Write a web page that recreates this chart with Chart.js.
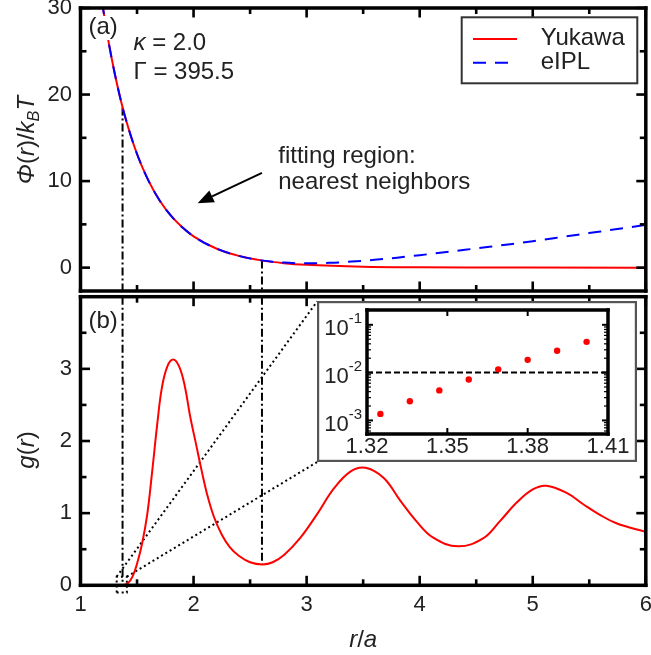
<!DOCTYPE html>
<html><head><meta charset="utf-8">
<script src="https://cdn.jsdelivr.net/npm/chart.js@4"></script>
<style>
html,body{margin:0;padding:0;background:#fff;}
#wrap{position:relative;width:651px;height:655px;overflow:hidden;background:#fff;}
canvas{position:absolute;left:0;}
</style></head><body>
<div id="wrap">
<canvas id="cTop" width="651" height="294" style="top:0px"></canvas>
<canvas id="cBot" width="651" height="361" style="top:294px"></canvas>
<canvas id="cIns" width="10" height="10"></canvas>
</div>
<script>
// ---------- data ----------
const rYukawa   = [1.19, 1.2, 1.25, 1.3, 1.35, 1.4, 1.5, 1.6, 1.7, 1.8, 1.9, 2.0, 2.2, 2.4, 2.6, 2.8, 3.0, 3.5, 4.0, 4.5, 5.0, 6.0];
const phiYukawa = [30.8, 29.9, 25.97, 22.6, 19.69, 17.18, 13.13, 10.08, 7.76, 6.0, 4.66, 3.62, 2.21, 1.36, 0.84, 0.52, 0.33, 0.10, 0.033, 0.011, 0.004, 0.0004];
const rEIPL     = [1.19, 1.2, 1.25, 1.3, 1.35, 1.4, 1.5, 1.6, 1.7, 1.8, 1.9, 2.0, 2.2, 2.4, 2.6, 2.7, 2.8, 2.9, 3.0, 3.2, 3.4, 3.6, 3.8, 4.0, 4.2, 4.4, 4.6, 4.8, 5.0, 5.2, 5.4, 5.6, 5.8, 6.0];
const phiEIPL   = [30.8, 29.9, 25.97, 22.6, 19.69, 17.18, 13.13, 10.08, 7.76, 6.0, 4.66, 3.62, 2.21, 1.36, 0.84, 0.69, 0.58, 0.52, 0.50, 0.55, 0.70, 0.90, 1.15, 1.44, 1.74, 2.06, 2.38, 2.71, 3.06, 3.43, 3.81, 4.18, 4.56, 4.94];
const rG   = [1.0, 1.3, 1.38, 1.42, 1.46, 1.5, 1.545, 1.59, 1.63, 1.68, 1.72, 1.77, 1.82, 1.87, 1.92, 1.97, 2.02, 2.07, 2.12, 2.18, 2.25, 2.32, 2.4, 2.5, 2.61, 2.7, 2.8, 2.94, 3.09, 3.24, 3.39, 3.52, 3.68, 3.83, 3.97, 4.12, 4.34, 4.56, 4.71, 4.86, 5.0, 5.12, 5.3, 5.45, 5.59, 5.74, 6.0];
const gVal = [0, 0, 0.005, 0.03, 0.12, 0.3, 0.58, 0.98, 1.52, 2.25, 2.74, 3.04, 3.13, 3.04, 2.78, 2.34, 1.97, 1.6, 1.26, 0.95, 0.7, 0.53, 0.41, 0.32, 0.29, 0.32, 0.42, 0.65, 0.98, 1.34, 1.58, 1.63, 1.49, 1.17, 0.89, 0.66, 0.54, 0.65, 0.89, 1.15, 1.33, 1.38, 1.28, 1.12, 0.98, 0.86, 0.74];
const rInset   = [1.325, 1.336, 1.347, 1.358, 1.369, 1.380, 1.391, 1.402];
const gInset   = [0.00137, 0.00251, 0.00425, 0.00717, 0.0117, 0.0185, 0.0286, 0.0440];
const insetThreshold = 0.01;
const fitR   = [1.372, 2.605];
const fitPhi = [18.5, 0.83];
const fitG   = [0.0, 0.29];
const zoomX = [1.32, 1.41];
const zoomY = [-0.1, 0.12];
const insetBoxX = [3.094, 5.92];
const insetBoxY = [1.709, 3.936];
const arrowFrom = [2.605, 10.95];
const arrowTo   = [2.036, 7.44];
const xTicks = [1, 2, 3, 4, 5, 6];
const xMinor = [1.5, 2.5, 3.5, 4.5, 5.5];
const phiTicks = [0, 10, 20, 30];
const phiMinor = [5, 15, 25];
const gTicks = [0, 1, 2, 3];
const gMinor = [0.5, 1.5, 2.5, 3.5];
const insXTicks = [1.32, 1.35, 1.38, 1.41];
const insYTicks = [1e-3, 1e-2, 1e-1];
const insYLabelsExp = ['-3', '-2', '-1'];
const legendLabels = ['Yukawa', 'eIPL'];

// ---------- style ----------
const FF = '"Liberation Sans", Arial, Helvetica, sans-serif';
const TXT = '#222';
const RED = '#ff0000', BLUE = '#0000ff';
const PHI_MIN = -2.7, PHI_MAX = 30, G_MIN = 0, G_MAX = 4;
const TICKCOL = '#000';

const pts = (xs, ys) => xs.map((x, i) => ({x, y: ys[i]}));

function fontOf(p, size) {
  const s = (p.sub || p.sup) ? size * 0.68 : size;
  return (p.i ? 'italic ' : '') + s + 'px ' + FF;
}
function richWidth(ctx, parts, size) {
  let w = 0;
  parts.forEach(p => { ctx.font = fontOf(p, size); w += ctx.measureText(p.t).width; });
  return w;
}
function drawRich(ctx, parts, x, y, size, align) {
  const w = richWidth(ctx, parts, size);
  let cx = align === 'center' ? x - w / 2 : align === 'right' ? x - w : x;
  ctx.textAlign = 'left';
  ctx.textBaseline = 'middle';
  parts.forEach(p => {
    ctx.font = fontOf(p, size);
    const dy = p.sub ? size * 0.32 : p.sup ? -size * 0.4 : 0;
    ctx.fillText(p.t, cx, y + dy);
    cx += ctx.measureText(p.t).width;
  });
  return w;
}
function line(ctx, x1, y1, x2, y2) {
  ctx.beginPath(); ctx.moveTo(x1, y1); ctx.lineTo(x2, y2); ctx.stroke();
}
function vTick(ctx, x, y1, y2, w) { ctx.fillRect(x - w / 2, Math.min(y1, y2), w, Math.abs(y2 - y1)); }
function hTick(ctx, y, x1, x2, w) { ctx.fillRect(Math.min(x1, x2), y - w / 2, Math.abs(x2 - x1), w); }

function drawFrame(chart, xt, xm, yt, ym) {
  const ctx = chart.ctx, a = chart.chartArea;
  const xs = chart.scales.x, ys = chart.scales.y;
  const MAJ = 9.5, MNR = 6, TW = 2.6, FW = 3.5;
  ctx.save();
  ctx.fillStyle = '#000';
  hTick(ctx, a.top, a.left - FW / 2, a.right + FW / 2, FW);
  hTick(ctx, a.bottom, a.left - FW / 2, a.right + FW / 2, FW);
  vTick(ctx, a.left, a.top - FW / 2, a.bottom + FW / 2, FW);
  vTick(ctx, a.right, a.top - FW / 2, a.bottom + FW / 2, FW);
  ctx.fillStyle = TICKCOL;
  for (const v of xt) { const p = xs.getPixelForValue(v); vTick(ctx, p, a.bottom, a.bottom - MAJ, TW); vTick(ctx, p, a.top, a.top + MAJ, TW); }
  for (const v of xm) { const p = xs.getPixelForValue(v); vTick(ctx, p, a.bottom, a.bottom - MNR, TW); vTick(ctx, p, a.top, a.top + MNR, TW); }
  for (const v of yt) { const p = ys.getPixelForValue(v); hTick(ctx, p, a.left, a.left + MAJ, TW); hTick(ctx, p, a.right, a.right - MAJ, TW); }
  for (const v of ym) { const p = ys.getPixelForValue(v); hTick(ctx, p, a.left, a.left + MNR, TW); hTick(ctx, p, a.right, a.right - MNR, TW); }
  ctx.restore();
}

const topDeco = {
  id: 'topDeco',
  afterDraw(chart) {
    const ctx = chart.ctx, a = chart.chartArea, x = chart.scales.x, y = chart.scales.y;
    drawFrame(chart, xTicks, xMinor, phiTicks, phiMinor);
    ctx.save();
    ctx.font = '24px ' + FF;
    const wa = ctx.measureText('(a)').width;
    ctx.fillStyle = '#fff';
    ctx.fillRect(a.left + 7, a.top + 8, wa + 2, 24);
    ctx.fillStyle = TXT;
    drawRich(ctx, [{t: '(a)'}], a.left + 8, a.top + 19, 24, 'left');
    drawRich(ctx, [{t: 'κ', i: 1}, {t: ' = 2.0'}], a.left + 53, a.top + 35, 24, 'left');
    drawRich(ctx, [{t: 'Γ = 395.5'}], a.left + 53, a.top + 64, 24, 'left');
    const tx = x.getPixelForValue(2.749);
    drawRich(ctx, [{t: 'fitting region:'}], tx, y.getPixelForValue(12.8), 24, 'left');
    drawRich(ctx, [{t: 'nearest neighbors'}], tx, y.getPixelForValue(9.8), 24, 'left');
    // arrow
    const x1 = x.getPixelForValue(arrowFrom[0]), y1 = y.getPixelForValue(arrowFrom[1]);
    const x2 = x.getPixelForValue(arrowTo[0]), y2 = y.getPixelForValue(arrowTo[1]);
    const ang = Math.atan2(y2 - y1, x2 - x1);
    const HL = 16, HW = 6.5;
    ctx.strokeStyle = '#000'; ctx.fillStyle = '#000'; ctx.lineWidth = 2;
    const hx = x2 - HL * Math.cos(ang), hy = y2 - HL * Math.sin(ang);
    line(ctx, x1, y1, hx, hy);
    ctx.beginPath();
    ctx.moveTo(x2, y2);
    ctx.lineTo(hx + HW * Math.sin(ang), hy - HW * Math.cos(ang));
    ctx.lineTo(hx - HW * Math.sin(ang), hy + HW * Math.cos(ang));
    ctx.closePath(); ctx.fill();
    // legend
    const lx = a.right - 184.1, ly = a.top + 9.3, lw = 175.6, lh = 66;
    ctx.fillStyle = '#fff'; ctx.fillRect(lx, ly, lw, lh);
    ctx.strokeStyle = '#333'; ctx.lineWidth = 2; ctx.strokeRect(lx, ly, lw, lh);
    ctx.strokeStyle = RED; line(ctx, lx + 11.3, ly + 21.7, lx + 55.3, ly + 21.7);
    ctx.strokeStyle = BLUE; ctx.setLineDash([13, 9]); line(ctx, lx + 11.3, ly + 45.4, lx + 55.3, ly + 45.4); ctx.setLineDash([]);
    ctx.fillStyle = TXT;
    drawRich(ctx, [{t: legendLabels[0]}], lx + 79, ly + 21, 24, 'left');
    drawRich(ctx, [{t: legendLabels[1]}], lx + 79, ly + 45, 24, 'left');
    // y title
    ctx.translate(27, 140);
    ctx.rotate(-Math.PI / 2);
    drawRich(ctx, [{t: 'Φ', i: 1}, {t: '('}, {t: 'r', i: 1}, {t: ')/'}, {t: 'k', i: 1}, {t: 'B', i: 1, sub: 1}, {t: 'T', i: 1}], 0, 0, 24, 'center');
    ctx.restore();
  }
};

const botDeco = {
  id: 'botDeco',
  afterDraw(chart) {
    const ctx = chart.ctx, a = chart.chartArea;
    drawFrame(chart, xTicks, xMinor, gTicks, gMinor);
    ctx.save();
    ctx.fillStyle = TXT;
    drawRich(ctx, [{t: '(b)'}], a.left + 8, a.top + 25, 24, 'left');
    drawRich(ctx, [{t: 'r', i: 1}, {t: '/'}, {t: 'a', i: 1}], (a.left + a.right) / 2, 346, 24, 'center');
    ctx.translate(27, 156);
    ctx.rotate(-Math.PI / 2);
    drawRich(ctx, [{t: 'g', i: 1}, {t: '('}, {t: 'r', i: 1}, {t: ')'}], 0, 0, 24, 'center');
    ctx.restore();
  }
};

const common = (yTicksArr, yMin, yMax, topPad, xHeight, showX) => ({
  animation: false, responsive: false, events: [],
  layout: {padding: {left: 0, right: 5.2, top: topPad, bottom: 0}},
  plugins: {legend: {display: false}, tooltip: {enabled: false}},
  scales: {
    x: {
      type: 'linear', min: 1, max: 6,
      grid: {display: false, drawTicks: false}, border: {display: false},
      afterBuildTicks: s => { s.ticks = xTicks.map(v => ({value: v})); },
      ticks: {display: showX, padding: 6.5, color: TXT, font: {family: FF, size: 22}, maxRotation: 0, autoSkip: false},
      afterFit: s => { s.height = xHeight; s.paddingLeft = 0; s.paddingRight = 0; }
    },
    y: {
      type: 'linear', min: yMin, max: yMax,
      grid: {display: false, drawTicks: false}, border: {display: false},
      afterBuildTicks: s => { s.ticks = yTicksArr.map(v => ({value: v})); },
      ticks: {padding: 8.5, color: TXT, font: {family: FF, size: 22}, autoSkip: false},
      afterFit: s => { s.width = 80.5; s.paddingTop = 0; s.paddingBottom = 0; }
    }
  }
});

const dashDot = [8, 3, 2, 3];

const topChart = new Chart(document.getElementById('cTop'), {
  type: 'line',
  data: {datasets: [
    {data: pts(rEIPL, phiEIPL), borderColor: BLUE, borderWidth: 2, borderDash: [13, 9], pointRadius: 0, cubicInterpolationMode: 'monotone'},
    {data: pts(rYukawa, phiYukawa), borderColor: RED, borderWidth: 2, pointRadius: 0, cubicInterpolationMode: 'monotone'},
    ...fitR.map((r, i) => ({data: [{x: r, y: fitPhi[i]}, {x: r, y: PHI_MIN}], borderColor: '#000', borderWidth: 2, borderDash: dashDot, pointRadius: 0}))
  ]},
  options: common(phiTicks, PHI_MIN, PHI_MAX, 8, 3, false),
  plugins: [topDeco]
});

const botChart = new Chart(document.getElementById('cBot'), {
  type: 'line',
  data: {datasets: [
    {data: pts(rG, gVal), borderColor: RED, borderWidth: 2, pointRadius: 0, tension: 0.4},
    ...fitR.map((r, i) => ({data: [{x: r, y: G_MAX}, {x: r, y: fitG[i]}], borderColor: '#000', borderWidth: 2, borderDash: dashDot, pointRadius: 0})),
    {data: [{x: zoomX[0], y: zoomY[0]}, {x: zoomX[1], y: zoomY[0]}, {x: zoomX[1], y: zoomY[1]}, {x: zoomX[0], y: zoomY[1]}, {x: zoomX[0], y: zoomY[0]}],
     borderColor: '#000', borderWidth: 2, borderDash: [2, 3], pointRadius: 0, clip: false},
    {data: [{x: zoomX[0], y: zoomY[1]}, {x: insetBoxX[0], y: insetBoxY[1]}], borderColor: '#000', borderWidth: 2, borderDash: [2, 3], pointRadius: 0, clip: false},
    {data: [{x: zoomX[1], y: zoomY[1]}, {x: insetBoxX[0], y: insetBoxY[0]}], borderColor: '#000', borderWidth: 2, borderDash: [2, 3], pointRadius: 0, clip: false}
  ]},
  options: common(gTicks, G_MIN, G_MAX, 2.7, 69.7, true),
  plugins: [botDeco]
});

// ---------- inset ----------
const bxs = botChart.scales.x, bys = botChart.scales.y;
const botTop = document.getElementById('cBot').offsetTop;
const iL = bxs.getPixelForValue(insetBoxX[0]), iR = bxs.getPixelForValue(insetBoxX[1]);
const iT = bys.getPixelForValue(insetBoxY[1]), iB = bys.getPixelForValue(insetBoxY[0]);
const cIns = document.getElementById('cIns');
cIns.width = Math.round(iR - iL); cIns.height = Math.round(iB - iT);
cIns.style.left = Math.round(iL) + 'px'; cIns.style.top = Math.round(iT + botTop) + 'px';

const insDeco = {
  id: 'insDeco',
  beforeDraw(chart) {
    const ctx = chart.ctx, w = chart.width, h = chart.height;
    ctx.save();
    ctx.fillStyle = '#fff'; ctx.fillRect(0, 0, w, h);
    ctx.strokeStyle = '#555'; ctx.lineWidth = 2.2; ctx.strokeRect(1.1, 1.1, w - 2.2, h - 2.2);
    ctx.restore();
  },
  afterDraw(chart) {
    const ctx = chart.ctx, a = chart.chartArea, x = chart.scales.x, y = chart.scales.y;
    ctx.save();
    ctx.fillStyle = '#000';
    const FW = 3.5;
    hTick(ctx, a.top, a.left - FW / 2, a.right + FW / 2, FW);
    hTick(ctx, a.bottom, a.left - FW / 2, a.right + FW / 2, FW);
    vTick(ctx, a.left, a.top - FW / 2, a.bottom + FW / 2, FW);
    vTick(ctx, a.right, a.top - FW / 2, a.bottom + FW / 2, FW);
    ctx.fillStyle = TICKCOL;
    for (const v of insXTicks) { const p = x.getPixelForValue(v); vTick(ctx, p, a.bottom, a.bottom - 6, 2); vTick(ctx, p, a.top, a.top + 6, 2); }
    for (const v of insYTicks) { const p = y.getPixelForValue(v); hTick(ctx, p, a.left, a.left + 6, 2); hTick(ctx, p, a.right, a.right - 6, 2); }
    for (let d = -4; d <= -1; d++) for (let m = 2; m <= 9; m++) {
      const v = m * Math.pow(10, d);
      if (v <= y.min || v >= y.max) continue;
      const p = y.getPixelForValue(v);
      hTick(ctx, p, a.left, a.left + 4, 1.2); hTick(ctx, p, a.right, a.right - 4, 1.2);
    }
    ctx.fillStyle = TXT;
    insYTicks.forEach((v, i) => {
      const p = y.getPixelForValue(v);
      ctx.font = '15px ' + FF;
      const ws = ctx.measureText(insYLabelsExp[i]).width;
      ctx.textBaseline = 'middle'; ctx.textAlign = 'right';
      ctx.fillText(insYLabelsExp[i], a.left - 5, p - 6);
      ctx.font = '22px ' + FF;
      ctx.fillText('10', a.left - 5 - ws, p + 4.5);
    });
    ctx.restore();
  }
};

new Chart(cIns, {
  type: 'scatter',
  data: {datasets: [
    {data: pts(rInset, gInset), backgroundColor: RED, borderWidth: 0, pointRadius: 3.2},
    {type: 'line', data: [{x: insXTicks[0], y: insetThreshold}, {x: insXTicks[insXTicks.length - 1], y: insetThreshold}], borderColor: '#000', borderWidth: 2, borderDash: [6, 3], pointRadius: 0}
  ]},
  options: {
    animation: false, responsive: false, events: [],
    layout: {padding: {left: 50, right: 29, top: 9, bottom: 0}},
    plugins: {legend: {display: false}, tooltip: {enabled: false}},
    scales: {
      x: {
        type: 'linear', min: 1.32, max: 1.41,
        grid: {display: false, drawTicks: false}, border: {display: false},
        afterBuildTicks: s => { s.ticks = insXTicks.map(v => ({value: v})); },
        ticks: {padding: 0, color: TXT, font: {family: FF, size: 22}, maxRotation: 0, autoSkip: false, callback: v => Number(v).toFixed(2)},
        afterFit: s => { s.height = 28; s.paddingLeft = 0; s.paddingRight = 0; }
      },
      y: {
        type: 'logarithmic', min: 5.2e-4, max: 0.204,
        grid: {display: false, drawTicks: false}, border: {display: false},
        ticks: {display: false},
        afterFit: s => { s.width = 0; s.paddingTop = 0; s.paddingBottom = 0; }
      }
    }
  },
  plugins: [insDeco]
});
</script>
</body></html>
